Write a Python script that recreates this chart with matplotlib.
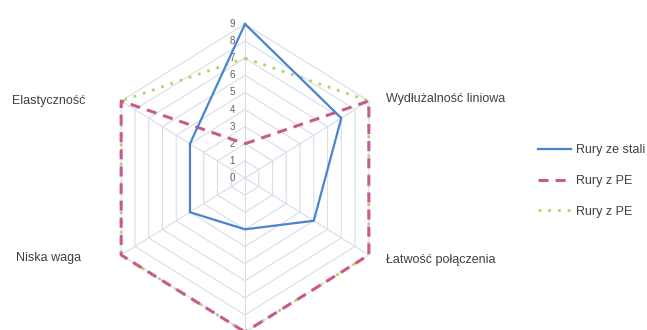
import numpy as np
import matplotlib
matplotlib.use('Agg')
from matplotlib import pyplot as plt

plt.rcParams['font.family'] = ['Liberation Sans', 'DejaVu Sans']

# axes clockwise from the top
categories = ['', 'Wydłużalność liniowa', 'Łatwość połączenia', '', 'Niska waga', 'Elastyczność']
rury_stal = [9, 7, 5, 3, 4, 4]
rury_pe_1 = [2, 9, 9, 9, 9, 9]
rury_pe_2 = [7, 9, 9, 9, 9, 9]
levels = list(range(0, 10))
series_names = ['Rury ze stali', 'Rury z PE', 'Rury z PE']

W, H = 647, 330
CX, CY = 245, 178          # chart centre in pixels (from top)
SX, SY = 143 / 9, 154 / 9  # pixels per unit (picture is slightly stretched)


def to_xy(values):
    n = len(values)
    ang = np.arange(n) * 2 * np.pi / n
    v = np.asarray(values, dtype=float)
    x = v * np.sin(ang)
    y = v * np.cos(ang)
    return np.append(x, x[0]), np.append(y, y[0])


fig = plt.figure(figsize=(W / 100, H / 100), dpi=100)
ax = fig.add_axes([0, 0, 1, 1])
ax.set_xlim(-CX / SX, (W - CX) / SX)
ax.set_ylim(-(H - CY) / SY, CY / SY)
ax.axis('off')

n = len(categories)
grid_col = '#d6dee9'
for lv in levels[1:]:
    gx, gy = to_xy([lv] * n)
    ax.plot(gx, gy, color=grid_col, lw=0.8, zorder=1)
ox, oy = to_xy([levels[-1]] * n)
for i in range(n):
    ax.plot([0, ox[i]], [0, oy[i]], color=grid_col, lw=0.8, zorder=1)

# tick labels along the top spoke
for lv in levels:
    ax.annotate(str(lv), xy=(0, lv), xytext=(-13, 0), textcoords='offset pixels',
                ha='center', va='center', fontsize=7, color='#606060')

# category labels
offsets = {1: (17, -2, 'left'), 2: (17, 5, 'left'), 4: (-40, 3, 'right'), 5: (-36, 0, 'right')}
for i, lab in enumerate(categories):
    if not lab:
        continue
    dx, dy, ha = offsets[i]
    ax.annotate(lab, xy=(ox[i], oy[i]), xytext=(dx, -dy), textcoords='offset pixels',
                ha=ha, va='center', fontsize=9, color='#404040')

x3, y3 = to_xy(rury_pe_2)
l3, = ax.plot(x3, y3, color='#b3d36a', lw=2, ls=(0, (1, 2.5)), zorder=2)
x2, y2 = to_xy(rury_pe_1)
l2, = ax.plot(x2, y2, color='#c95c86', lw=2.2, ls=(0, (3.3, 2.3)), zorder=3)
x1, y1 = to_xy(rury_stal)
l1, = ax.plot(x1, y1, color='#4a84cf', lw=1.6, zorder=4)

ax.legend([l1, l2, l3], series_names, loc='center left',
          bbox_to_anchor=(527 / W, 1 - 181 / H), frameon=False, fontsize=9,
          handlelength=2.6, handletextpad=0.4, labelspacing=1.5,
          labelcolor='#404040')

fig.savefig('out.png', dpi=100)
